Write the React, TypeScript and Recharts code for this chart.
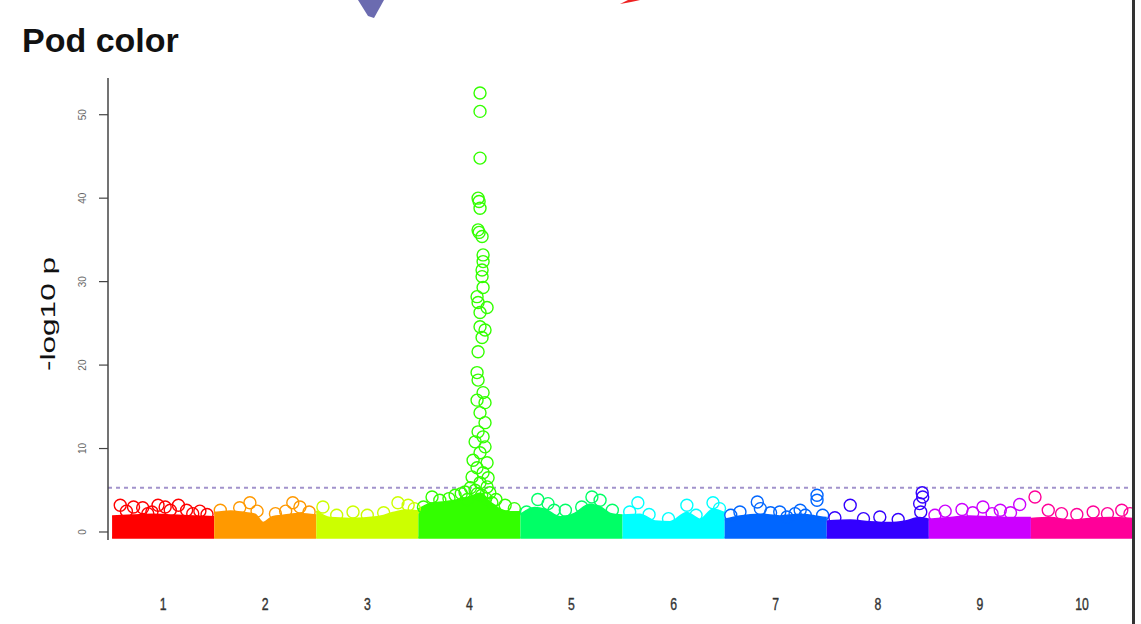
import React from 'react';
import { ComposedChart, Area, Scatter, XAxis, YAxis, ReferenceLine } from 'recharts';

const chromosomes = ['1', '2', '3', '4', '5', '6', '7', '8', '9', '10'];
const chromColors = ['#FF0000', '#FF9900', '#CCFF00', '#33FF00', '#00FF66', '#00FFFF', '#0066FF', '#3300FF', '#CC00FF', '#FF0099'];

const yTicks = [0, 10, 20, 30, 40, 50];
const threshold = 5.3;
const bandFloor = -0.7;

// dense bulk of SNPs per chromosome: [position within chromosome, upper -log10 p]
const bandChr1 = [[0, 1.9], [0.2, 2.0], [0.4, 2.1], [0.6, 2.0], [0.8, 1.9], [1, 1.8]];
const bandChr2 = [[0, 2.3], [0.16, 2.5], [0.3, 2.3], [0.4, 2.1], [0.48, 1.1], [0.57, 1.8], [0.69, 2.0], [0.84, 2.2], [1, 2.0]];
const bandChr3 = [[0, 2.5], [0.135, 1.7], [0.33, 1.6], [0.595, 1.8], [0.75, 2.3], [0.87, 2.6], [1, 2.5]];
const bandChr4 = [[0, 2.7], [0.115, 3.4], [0.26, 3.6], [0.41, 3.9], [0.51, 4.2], [0.6, 4.6], [0.7, 3.6], [0.8, 2.7], [0.9, 2.4], [1, 2.4]];
const bandChr5 = [[0, 2.1], [0.14, 2.9], [0.24, 2.7], [0.39, 1.8], [0.53, 2.2], [0.68, 3.3], [0.78, 3.0], [0.88, 2.2], [1, 2.0]];
const bandChr6 = [[0, 2.0], [0.17, 2.1], [0.32, 1.3], [0.465, 1.2], [0.63, 2.3], [0.76, 1.5], [0.886, 2.7], [1, 2.3]];
const bandChr7 = [[0, 1.5], [0.15, 1.9], [0.35, 2.1], [0.54, 1.9], [0.74, 2.1], [0.885, 1.9], [1, 1.7]];
const bandChr8 = [[0, 1.3], [0.23, 1.4], [0.42, 1.2], [0.62, 1.1], [0.77, 1.3], [0.91, 1.7], [1, 1.5]];
const bandChr9 = [[0, 1.5], [0.21, 1.7], [0.4, 1.9], [0.6, 1.8], [0.795, 1.7], [1, 1.7]];
const bandChr10 = [[0, 1.6], [0.19, 1.7], [0.38, 1.4], [0.58, 1.6], [0.775, 1.7], [1, 1.6]];

// individual SNPs standing out above the bulk
const hitsChr1 = [
  [0.08, 3.2], [0.14, 2.5], [0.21, 3.0], [0.3, 2.9], [0.35, 2.2], [0.39, 2.4], [0.45, 3.2], [0.52, 3.0],
  [0.57, 2.6], [0.65, 3.2], [0.73, 2.6], [0.79, 2.2], [0.86, 2.5], [0.93, 2.1],
];
const hitsChr2 = [[0.06, 2.6], [0.25, 2.9], [0.35, 3.5], [0.42, 2.5], [0.6, 2.2], [0.7, 2.5], [0.77, 3.5], [0.84, 3.0], [0.93, 2.4]];
const hitsChr3 = [[0.065, 3.0], [0.2, 2.0], [0.36, 2.4], [0.5, 2.0], [0.66, 2.3], [0.8, 3.5], [0.9, 3.2], [0.96, 2.8]];
const hitsChr4 = [
  [0.05, 3.0], [0.134, 4.2], [0.21, 3.8], [0.3, 4.0], [0.36, 4.4], [0.42, 4.6], [0.457, 4.8], [0.51, 5.3],
  [0.48, 3.9], [0.7, 4.7], [0.72, 3.5], [0.76, 3.9], [0.85, 3.2], [0.94, 2.8],
  [0.604, 52.6], [0.604, 50.4], [0.604, 44.8], [0.585, 40.0], [0.595, 39.6], [0.604, 38.8], [0.585, 36.2],
  [0.595, 35.9], [0.624, 35.4], [0.634, 33.2], [0.634, 32.4], [0.624, 31.4], [0.624, 30.6], [0.634, 29.3],
  [0.575, 28.2], [0.585, 27.5], [0.673, 26.9], [0.604, 26.3], [0.604, 24.6], [0.653, 24.2], [0.624, 23.3],
  [0.585, 21.6], [0.575, 19.1], [0.585, 18.2], [0.634, 16.7], [0.575, 15.8], [0.653, 15.5], [0.604, 14.3],
  [0.653, 13.1], [0.585, 12.0], [0.634, 11.4], [0.556, 10.8], [0.653, 10.2], [0.604, 9.5], [0.536, 8.6],
  [0.673, 8.3], [0.575, 7.7], [0.634, 7.1], [0.526, 6.6], [0.683, 6.5], [0.604, 5.9], [0.673, 5.4], [0.556, 5.0],
  [0.62, 4.4], [0.66, 4.0], [0.58, 4.6],
];
const hitsChr5 = [[0.06, 2.4], [0.17, 3.9], [0.27, 3.4], [0.33, 2.6], [0.44, 2.6], [0.6, 3.0], [0.7, 4.2], [0.78, 3.8], [0.9, 2.6]];
const hitsChr6 = [[0.07, 2.4], [0.15, 3.5], [0.26, 2.1], [0.45, 1.6], [0.63, 3.2], [0.72, 2.0], [0.886, 3.5], [0.95, 2.8]];
const hitsChr7 = [
  [0.06, 2.0], [0.15, 2.4], [0.32, 3.6], [0.35, 2.8], [0.45, 2.3], [0.54, 2.4], [0.61, 1.8], [0.69, 2.2],
  [0.74, 2.6], [0.79, 2.0], [0.905, 4.4], [0.905, 3.8], [0.96, 2.0],
];
const hitsChr8 = [[0.08, 1.7], [0.23, 3.2], [0.36, 1.6], [0.52, 1.8], [0.7, 1.5], [0.91, 3.4], [0.921, 2.4], [0.935, 4.7], [0.94, 4.2]];
const hitsChr9 = [[0.06, 2.0], [0.16, 2.5], [0.325, 2.7], [0.43, 2.3], [0.53, 3.0], [0.62, 2.2], [0.7, 2.6], [0.8, 2.3], [0.89, 3.3]];
const hitsChr10 = [[0.04, 4.2], [0.17, 2.6], [0.3, 2.2], [0.45, 2.1], [0.61, 2.4], [0.75, 2.2], [0.89, 2.6], [0.97, 2.2]];

const bands = [bandChr1, bandChr2, bandChr3, bandChr4, bandChr5, bandChr6, bandChr7, bandChr8, bandChr9, bandChr10];
const hits = [hitsChr1, hitsChr2, hitsChr3, hitsChr4, hitsChr5, hitsChr6, hitsChr7, hitsChr8, hitsChr9, hitsChr10];

const chromTicks = chromosomes.map((_, i) => i + 0.5);

const XTick = (props: any) => {
  const { x, y, payload } = props;
  const label = chromosomes[Math.floor(payload.value)];
  return (
    <text
      transform={`translate(${x},${y + 62}) scale(0.72,1)`}
      textAnchor="middle"
      fontSize={17}
      fill="#333"
      stroke="#333"
      strokeWidth={0.4}
      fontFamily="Liberation Sans, Arial, sans-serif"
    >
      {label}
    </text>
  );
};

const YTick = (props: any) => {
  const { y, payload } = props;
  return (
    <text
      transform={`translate(86,${y}) rotate(-90)`}
      textAnchor="middle"
      fontSize={10}
      fill="#666"
      fontFamily="Liberation Sans, Arial, sans-serif"
    >
      {payload.value}
    </text>
  );
};

const HitCircle = (color: string) => (props: any) => (
  <circle cx={props.cx} cy={props.cy} r={6} fill="none" stroke={color} strokeWidth={1.4} />
);

export default function App() {
  return (
    <div style={{ position: 'absolute', left: 0, top: 0, width: 1141, height: 624, background: '#fff', overflow: 'hidden' }}>
      <div
        style={{
          position: 'absolute',
          left: 22,
          top: 21,
          fontFamily: 'Liberation Sans, Arial, sans-serif',
          fontWeight: 'bold',
          fontSize: 34,
          color: '#111',
        }}
      >
        Pod color
      </div>
      <svg width={1141} height={624} style={{ position: 'absolute', left: 0, top: 0 }}>
        <path d="M358,0 L384,0 L374,18 L368,16 Z" fill="#6b6bb0" />
        <path d="M620,4 Q632,2 640,0 L628,0 Z" fill="#ee2222" />
        <text
          transform="translate(55,314) rotate(-90)"
          textAnchor="middle"
          fontSize={21}
          fill="#111"
          fontFamily="Liberation Sans, Arial, sans-serif"
          textLength={114}
          lengthAdjust="spacingAndGlyphs"
        >
          -log10 p
        </text>
      </svg>
      <div style={{ position: 'absolute', left: 0, top: 0 }}>
        <ComposedChart width={1141} height={624} margin={{ top: 78, right: 8, bottom: 24, left: 48 }}>
          <XAxis
            type="number"
            dataKey="x"
            domain={[-0.04, 10]}
            ticks={chromTicks}
            axisLine={false}
            tickLine={false}
            tick={<XTick />}
            height={60}
            allowDataOverflow
          />
          <YAxis
            type="number"
            domain={[-0.96, 54.4]}
            ticks={yTicks}
            width={60}
            axisLine={{ stroke: '#444', strokeWidth: 1.5 }}
            tickLine={{ stroke: '#444', strokeWidth: 1.2 }}
            tickSize={9}
            tick={<YTick />}
            allowDataOverflow
          />
          {bands.map((band, i) => (
            <Area
              key={`band-${i}`}
              data={band.map(([r, v]) => ({ x: i + r, band: [bandFloor, v] }))}
              dataKey="band"
              type="monotone"
              fill={chromColors[i]}
              fillOpacity={1}
              stroke={chromColors[i]}
              strokeWidth={2}
              dot={false}
              activeDot={false}
              isAnimationActive={false}
            />
          ))}
          <ReferenceLine y={threshold} stroke="#a293cc" strokeWidth={2} strokeDasharray="4 4" />
          {hits.map((pts, i) => (
            <Scatter
              key={`hits-${i}`}
              data={pts.map(([r, v]) => ({ x: i + r, y: v }))}
              dataKey="y"
              shape={HitCircle(chromColors[i])}
              isAnimationActive={false}
            />
          ))}
        </ComposedChart>
      </div>
      <div style={{ position: 'absolute', left: 1132, top: 0, width: 3, height: 624, background: '#333' }} />
    </div>
  );
}
